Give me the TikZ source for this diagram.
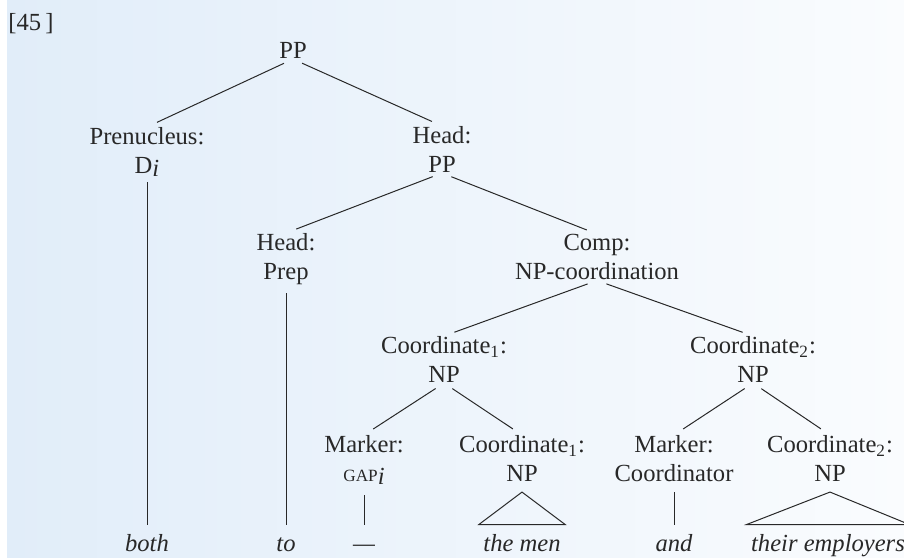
\documentclass[tikz,border=0pt]{standalone}
\usepackage{fontspec}
\setmainfont{Liberation Serif}
\usepackage{tikz}

\definecolor{bgleft}{RGB}{225,237,249}
\definecolor{bgright}{RGB}{250,252,254}
\definecolor{ink}{RGB}{40,40,40}

\newcommand{\smallgap}{{\fontsize{8.6}{10}\selectfont GAP}}

\begin{document}
\begin{tikzpicture}[x=0.5pt, y=-0.5pt, line width=0.5pt, draw=ink, text=ink,
		font=\fontsize{12.3}{14.5}\selectfont]
			
			% Stili per i nodi dell'albero e per i rami
			\tikzset{
				cat/.style={
					anchor=north,
					align=center,
					inner sep=0pt
				},
				leaf/.style={
					anchor=base,
					inner xsep=2pt,
					inner ysep=0pt,
					text height=8pt,
					font=\fontsize{12.3}{14.5}\selectfont\itshape
				},
				branch/.style={
					shorten <=5pt,
					shorten >=5.5pt
				},
				stem/.style={
					shorten <=5pt,
					shorten >=5pt
				}
			}
			
			% Sfondo sfumato
			\useasboundingbox (0,0) rectangle (904,557);
			\shade[left color=bgleft, right color=bgright] (7,0) rectangle (904,557);
			
			\node[anchor=base west, inner sep=0pt] (num) at (8, 31) {[45\,]};
			
			% Livello 1 e 2
			\node[cat] (pp)  at (293, 42)  {PP};
			\node[cat] (pre) at (147, 127) {Prenucleus:\\D\raisebox{-0.3ex}{\itshape i}};
			\node[cat] (hpp) at (442, 126) {Head:\\PP};
			
			% Livello 3
			\node[cat] (hprep) at (286, 233) {Head:\\Prep};
			\node[cat] (comp)  at (597, 234) {Comp:\\NP-coordination};
			
			% Livello 4
			\node[cat] (co1) at (444, 336) {Coordinate\textsubscript{1}:\\NP};
			\node[cat] (co2) at (753, 336) {Coordinate\textsubscript{2}:\\NP};
			
			% Livello 5
			\node[cat] (mk1) at (364, 435) {Marker:\\\smallgap\raisebox{-0.3ex}{\itshape i}};
			\node[cat] (cn1) at (522, 435) {Coordinate\textsubscript{1}:\\NP};
			\node[cat] (mk2) at (674, 435) {Marker:\\Coordinator};
			\node[cat] (cn2) at (830, 435) {Coordinate\textsubscript{2}:\\NP};
			
			% Parole in fondo
			\node[leaf] (both) at (147, 551) {both};
			\node[leaf] (to)   at (286, 551) {to};
			\node[leaf] (dash) at (364, 551) {---};
			\node[leaf] (men)  at (522, 551) {the men};
			\node[leaf] (and)  at (674, 551) {and};
			\node[leaf] (emp)  at (828, 551) {their employers};
			
			% Rami
			\draw[branch] (pp.south) -- (pre.north);
			\draw[branch] (pp.south) -- (hpp.north);
			\draw[branch] (hpp.south) -- (hprep.north);
			\draw[branch] (hpp.south) -- (comp.north);
			\draw[branch] (comp.south) -- (co1.north);
			\draw[branch] (comp.south) -- (co2.north);
			\draw[branch] (co1.south) -- (mk1.north);
			\draw[branch] (co1.south) -- (cn1.north);
			\draw[branch] (co2.south) -- (mk2.north);
			\draw[branch] (co2.south) -- (cn2.north);
			
			% Linee verticali verso le parole
			\draw[stem, shorten <=2.5pt] (pre.south) -- (both.north);
			\draw[stem, shorten <=4pt] (hprep.south) -- (to.north);
			\draw[stem] (mk1.south) -- (dash.north);
			\draw[stem] (mk2.south) -- (and.north);
			
			% Triangoli
			\draw ([yshift=-5pt]cn1.south) -- ([yshift=5pt]men.north west) -- ([yshift=5pt]men.north east) -- cycle;
			\draw ([yshift=-5pt]cn2.south) -- ([yshift=5pt]emp.north west) -- ([yshift=5pt]emp.north east) -- cycle;
			
		\end{tikzpicture}
\end{document}
